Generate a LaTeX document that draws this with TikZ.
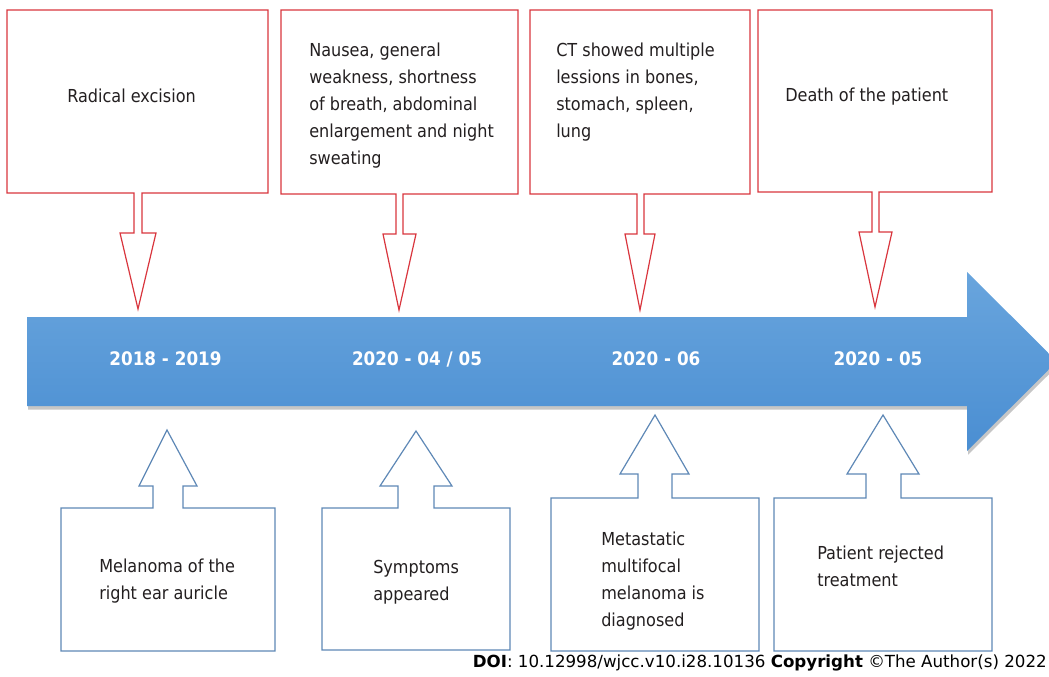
\documentclass[tikz,border=0pt]{standalone}
\usepackage{fontspec}
\setmainfont{DejaVu Sans Condensed}
\newfontfamily\doifont{DejaVu Sans}
\usepackage{tikz}
\usetikzlibrary{positioning, shadows}

\definecolor{calloutred}{HTML}{D9363E}
\definecolor{calloutblue}{HTML}{5E88B6}
\definecolor{bartop}{HTML}{69A5DD}
\definecolor{barbottom}{HTML}{4A8ED2}
\definecolor{inktext}{HTML}{231F20}

\tikzset{
  redcallout/.style={draw=calloutred, line width=0.9pt, fill=white, line join=miter},
  bluecallout/.style={draw=calloutblue, line width=0.9pt, fill=white, line join=miter},
  eventtext/.style={anchor=west, align=left, text=inktext, inner sep=0pt,
    font=\fontsize{13.4}{20.25}\selectfont},
  datetext/.style={text=white, inner sep=0pt, font=\fontsize{14}{16}\selectfont\bfseries}
}

\begin{document}
\begin{tikzpicture}[x=0.75pt, y=-0.75pt]
            \useasboundingbox (0,0) rectangle (1049,677);

            % Timeline arrow
            \begin{scope}
            \clip (0,0) rectangle (1049,677);
            \path[top color=bartop, bottom color=barbottom,
                  drop shadow={opacity=0.45, shadow xshift=0.8pt, shadow yshift=-2.8pt}]
              (27,317) -- (967,317) -- (967,272) -- (1057,361.5)
              -- (967,451) -- (967,406) -- (27,406) -- cycle;
            \end{scope}

            % Dates on the arrow
            \node[datetext] (d1) at (165.5,359) {2018 - 2019};
            \node[datetext] (d2) at (417,359) {2020 - 04 / 05};
            \node[datetext] (d3) at (656,359) {2020 - 06};
            \node[datetext] (d4) at (878,359) {2020 - 05};

            % Callouts above the arrow
            \draw[redcallout] (7,10) -- (268,10) -- (268,193) -- (142,193) -- (142,233)
              -- (156,233) -- (138,309) -- (120,233) -- (134,233) -- (134,193) -- (7,193) -- cycle;
            \node[eventtext] (excision) at (67,96) {Radical excision};

            \draw[redcallout] (281,10) -- (518,10) -- (518,194) -- (403,194) -- (403,234)
              -- (416,234) -- (399,310) -- (383,234) -- (396,234) -- (396,194) -- (281,194) -- cycle;
            \node[eventtext] (complaints) at (309,106) {Nausea, general\\weakness, shortness\\of breath, abdominal\\enlargement and night\\sweating};

            \draw[redcallout] (530,10) -- (750,10) -- (750,194) -- (644,194) -- (644,234)
              -- (655,234) -- (640,310) -- (625,234) -- (637,234) -- (637,194) -- (530,194) -- cycle;
            \node[eventtext] (ctscan) at (556,92.5) {CT showed multiple\\lessions in bones,\\stomach, spleen,\\lung};

            \draw[redcallout] (758,10) -- (992,10) -- (992,192) -- (879,192) -- (879,232)
              -- (892,232) -- (875,307) -- (859,232) -- (872,232) -- (872,192) -- (758,192) -- cycle;
            \node[eventtext] (death) at (785,97) {Death of the patient};

            % Callouts below the arrow
            \draw[bluecallout] (61,651) -- (275,651) -- (275,508) -- (183,508) -- (183,486)
              -- (197,486) -- (167,430) -- (139,486) -- (153,486) -- (153,508) -- (61,508) -- cycle;
            \node[eventtext] (melanoma) at (99,581.5) {Melanoma of the\\right ear auricle};

            \draw[bluecallout] (322,650) -- (510,650) -- (510,508) -- (434,508) -- (434,486)
              -- (452,486) -- (416,431) -- (380,486) -- (398,486) -- (398,508) -- (322,508) -- cycle;
            \node[eventtext] (symptoms) at (373,582.5) {Symptoms\\appeared};

            \draw[bluecallout] (551,651) -- (759,651) -- (759,498) -- (672,498) -- (672,474)
              -- (689,474) -- (655,415) -- (620,474) -- (638,474) -- (638,498) -- (551,498) -- cycle;
            \node[eventtext] (diagnosis) at (601,581) {Metastatic\\multifocal\\melanoma is\\diagnosed};

            \draw[bluecallout] (774,651) -- (992,651) -- (992,498) -- (901,498) -- (901,474)
              -- (919,474) -- (883,415) -- (847,474) -- (866,474) -- (866,498) -- (774,498) -- cycle;
            \node[eventtext] (rejected) at (817,566.5) {Patient rejected\\treatment};

            % Source line
            \node[anchor=east, inner sep=0pt, font=\doifont\fontsize{12.5}{14}\selectfont] (doi) at (1047,663)
              {\textbf{DOI}: 10.12998/wjcc.v10.i28.10136 \textbf{Copyright} \textcopyright The Author(s) 2022};
\end{tikzpicture}
\end{document}
